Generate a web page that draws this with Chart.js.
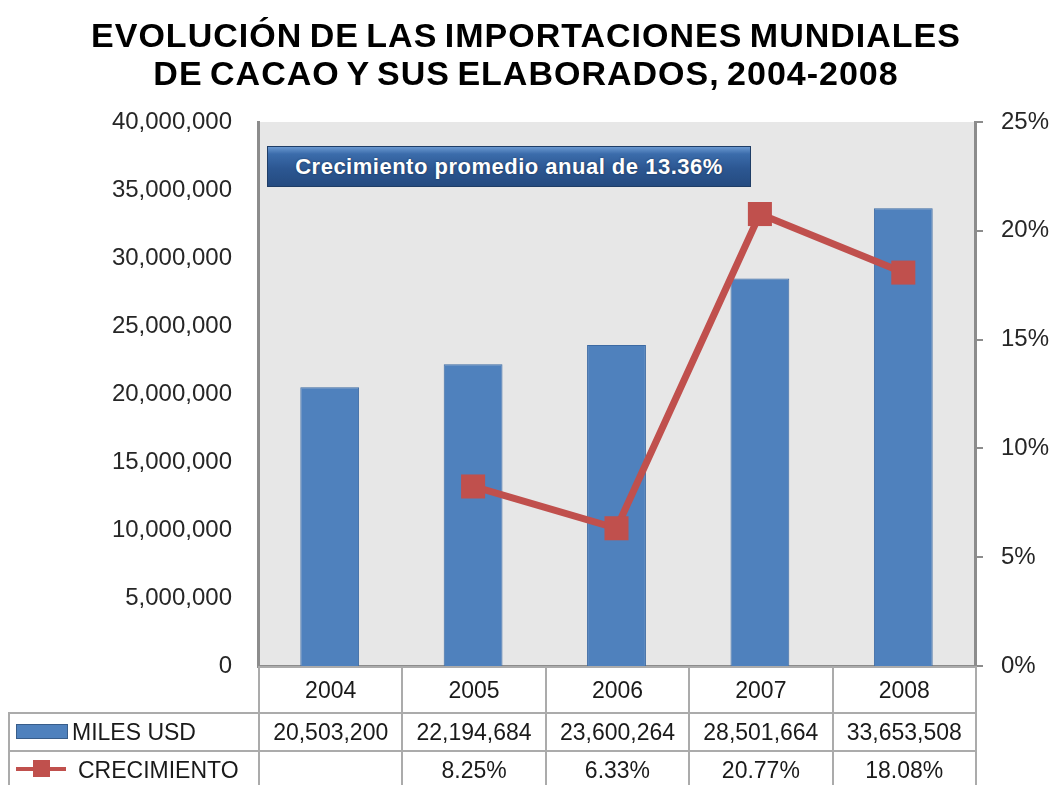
<!DOCTYPE html>
<html>
<head>
<meta charset="utf-8">
<script src="https://cdn.jsdelivr.net/npm/chart.js@4/dist/chart.umd.min.js"></script>
<style>
  html, body { margin: 0; padding: 0; background: #fff; }
  body { width: 1052px; height: 785px; position: relative; overflow: hidden; font-family: "Liberation Sans", Arial, sans-serif; }
  #chart { position: absolute; left: 0; top: 0; }
  .title {
    position: absolute; left: 0; width: 1052px; text-align: center;
    font-weight: bold; font-size: 34px; color: #000; letter-spacing: 1px; word-spacing: -3px; white-space: nowrap;
  }
  .badge {
    position: absolute; left: 267px; top: 146px; width: 484px; height: 41px;
    box-sizing: border-box; border: 1px solid #1f3d66;
    background: linear-gradient(to bottom, #6a98d0 0%, #3b6cab 18%, #2c5792 55%, #254b80 100%);
    color: #fff; font-weight: bold; font-size: 22px; letter-spacing: 0.5px; line-height: 39px; text-align: center;
    text-shadow: 0 0 2px rgba(0,0,0,0.5);
  }
  table#data {
    position: absolute; border-collapse: collapse; table-layout: fixed;
    font-size: 23px; color: #1a1a1a;
  }
  table#data td { border: 2px solid #ababab; padding: 0; text-align: center; white-space: nowrap; }
  table#data td.corner { border-top: none; border-left: none; }
  table#data td.lab { text-align: left; padding-left: 6px; }
  .sw-bar { display: inline-block; width: 50px; height: 13px; background: #4f81bd; border: 1px solid #385d8a; vertical-align: middle; margin-right: 4px; position: relative; top: -2px; }
  .sw-line { display: inline-block; width: 50px; height: 20px; position: relative; vertical-align: middle; margin-right: 12px; top: -2px; }
  .sw-line:before { content: ""; position: absolute; left: 0; right: 0; top: 8px; height: 4px; background: #c0504d; }
  .sw-line:after { content: ""; position: absolute; left: 17px; top: 1px; width: 17px; height: 17px; background: #c0504d; }
</style>
</head>
<body>
<canvas id="chart" width="1052" height="785"></canvas>
<div class="title" style="top: 16px;">EVOLUCIÓN DE LAS IMPORTACIONES MUNDIALES</div>
<div class="title" style="top: 54px;">DE CACAO Y SUS ELABORADOS, 2004-2008</div>
<div class="badge">Crecimiento promedio anual de 13.36%</div>
<table id="data"></table>
<script>
// data
const years = ['2004', '2005', '2006', '2007', '2008'];
const milesUsd = [20503200, 22194684, 23600264, 28501664, 33653508];
const crecimiento = [null, 8.25, 6.33, 20.77, 18.08]; // percent
const barLabel = 'MILES USD';
const lineLabel = 'CRECIMIENTO';

const fmtInt = v => Math.round(v).toLocaleString('en-US');
const fmtPct = v => v == null ? '' : v.toFixed(2) + '%';

// gray plot-area background
const plotBg = {
  id: 'plotBg',
  beforeDraw(chart) {
    const { ctx, chartArea: a } = chart;
    ctx.save();
    ctx.fillStyle = '#e7e7e7';
    ctx.fillRect(a.left, a.top, a.right - a.left, a.bottom - a.top);
    ctx.restore();
  }
};

const axisGray = '#8c8c8c';
const tickFont = { family: '"Liberation Sans", Arial, sans-serif', size: 24 };

const chart = new Chart(document.getElementById('chart'), {
  data: {
    labels: years,
    datasets: [
      {
        type: 'line',
        label: lineLabel,
        data: crecimiento,
        yAxisID: 'y1',
        borderColor: '#c0504d',
        backgroundColor: '#c0504d',
        borderWidth: 7,
        pointStyle: 'rect',
        pointRadius: 17,
        pointBorderWidth: 0,
        tension: 0,
        spanGaps: false,
        order: 0
      },
      {
        type: 'bar',
        label: barLabel,
        data: milesUsd,
        yAxisID: 'y',
        backgroundColor: '#4f81bd',
        borderColor: '#3c6aa3',
        borderWidth: 1,
        categoryPercentage: 1,
        barPercentage: 0.41,
        order: 1
      }
    ]
  },
  options: {
    responsive: false,
    animation: false,
    devicePixelRatio: 1,
    layout: { padding: { top: 122, bottom: 119, left: 0, right: 0 } },
    plugins: { legend: { display: false }, tooltip: { enabled: false } },
    scales: {
      x: {
        ticks: { display: false },
        grid: { display: false, drawTicks: false },
        border: { display: true, color: axisGray, width: 3 },
        afterFit: s => { s.height = 0; }
      },
      y: {
        position: 'left',
        min: 0, max: 40000000,
        ticks: { stepSize: 5000000, padding: 26, color: '#262626', font: tickFont, callback: v => fmtInt(v) },
        grid: { display: false, drawTicks: false },
        border: { display: true, color: axisGray, width: 3 },
        afterFit: s => { s.width = 258; }
      },
      y1: {
        position: 'right',
        min: 0, max: 25,
        ticks: { stepSize: 5, padding: 18, color: '#262626', font: tickFont, callback: v => v + '%' },
        grid: { drawOnChartArea: false, drawTicks: true, tickLength: 8, color: axisGray, lineWidth: 2 },
        border: { display: true, color: axisGray, width: 3 },
        afterFit: s => { s.width = 77; }
      }
    }
  },
  plugins: [plotBg]
});

// data table under the plot, columns aligned with the category axis
(function buildTable() {
  const a = chart.chartArea;
  const colW = (a.right - a.left) / years.length;
  const tbl = document.getElementById('data');
  tbl.style.left = '8px';
  tbl.style.top = (a.bottom) + 'px';
  let html = '<colgroup><col style="width:' + (a.left - 8) + 'px">';
  years.forEach(() => { html += '<col style="width:' + colW + 'px">'; });
  html += '</colgroup>';
  html += '<tr style="height:46px"><td class="corner"></td>' + years.map(y => '<td>' + y + '</td>').join('') + '</tr>';
  html += '<tr style="height:38px"><td class="lab"><span class="sw-bar"></span>' + barLabel + '</td>' +
    milesUsd.map(v => '<td>' + fmtInt(v) + '</td>').join('') + '</tr>';
  html += '<tr style="height:38px"><td class="lab"><span class="sw-line"></span>' + lineLabel + '</td>' +
    crecimiento.map(v => '<td>' + fmtPct(v) + '</td>').join('') + '</tr>';
  tbl.innerHTML = html;
})();
</script>
</body>
</html>
